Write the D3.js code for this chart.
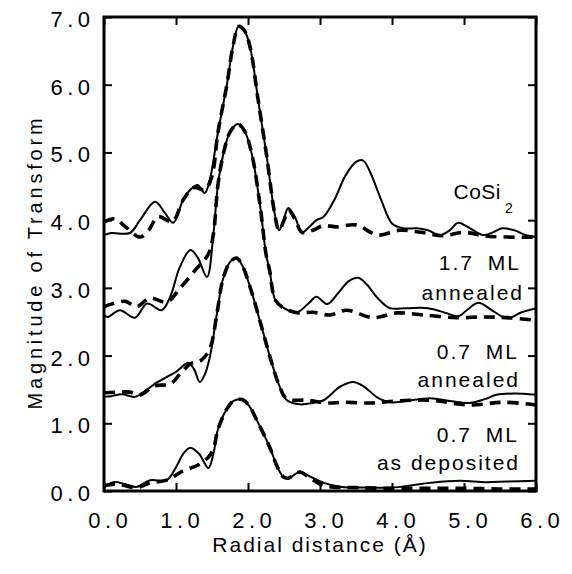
<!DOCTYPE html>
<html>
<head>
<meta charset="utf-8">
<script src="https://cdn.jsdelivr.net/npm/d3@7"></script>
<style>
  body { margin: 0; background: #fff; }
  text { font-family: "Liberation Sans", Arial, sans-serif; fill: #000; }
</style>
</head>
<body>
<svg id="chart"></svg>
<script>
// tick values
const xTicks = [0, 1, 2, 3, 4, 5, 6];
const yTicks = [0, 1, 2, 3, 4, 5, 6, 7];

// [radial distance, magnitude]
const cosi2Solid = [[0.0,3.78],[0.1,3.81],[0.36,3.81],[0.5,4.0],[0.71,4.27],[0.85,4.1],[0.96,3.96],[1.1,4.3],[1.2,4.45],[1.3,4.52],[1.4,4.4],[1.47,4.6],[1.58,5.28],[1.71,6.02],[1.79,6.56],[1.87,6.86],[1.95,6.8],[2.03,6.55],[2.14,5.78],[2.26,4.94],[2.37,4.1],[2.43,3.85],[2.48,3.95],[2.56,4.18],[2.65,4.05],[2.75,3.82],[2.85,3.9],[2.95,4.0],[3.05,4.05],[3.2,4.3],[3.35,4.65],[3.5,4.86],[3.6,4.88],[3.7,4.7],[3.85,4.3],[4.0,3.95],[4.15,3.88],[4.35,3.88],[4.5,3.85],[4.67,3.78],[4.8,3.85],[4.92,3.96],[5.05,3.9],[5.27,3.78],[5.4,3.82],[5.53,3.88],[5.7,3.85],[5.85,3.78],[6.0,3.75]];
const cosi2Dash = [[0.0,3.97],[0.15,4.02],[0.3,3.9],[0.5,3.75],[0.62,3.85],[0.75,4.05],[0.95,3.98],[1.1,4.3],[1.25,4.48],[1.4,4.45],[1.5,4.65],[1.58,5.28],[1.71,6.02],[1.79,6.56],[1.87,6.86],[1.95,6.8],[2.03,6.55],[2.14,5.78],[2.26,4.94],[2.37,4.1],[2.43,3.85],[2.5,4.0],[2.56,4.15],[2.65,4.02],[2.75,3.82],[2.9,3.85],[3.05,3.92],[3.23,3.9],[3.5,3.93],[3.8,3.78],[4.1,3.85],[4.4,3.82],[4.7,3.77],[5.0,3.82],[5.27,3.77],[5.6,3.75],[6.0,3.75]];
const ml17Solid = [[0.0,2.6],[0.05,2.57],[0.22,2.67],[0.43,2.56],[0.6,2.77],[0.8,2.67],[0.92,2.87],[1.05,3.3],[1.2,3.56],[1.3,3.45],[1.43,3.16],[1.52,3.8],[1.58,4.5],[1.65,4.94],[1.75,5.3],[1.86,5.42],[1.96,5.3],[2.06,4.94],[2.17,4.2],[2.25,3.5],[2.3,3.26],[2.38,2.82],[2.5,2.7],[2.68,2.64],[2.85,2.78],[2.95,2.87],[3.1,2.76],[3.25,2.92],[3.4,3.1],[3.53,3.15],[3.65,3.05],[3.8,2.85],[3.97,2.7],[4.2,2.7],[4.5,2.7],[4.75,2.63],[4.92,2.58],[5.05,2.68],[5.2,2.78],[5.4,2.66],[5.6,2.55],[5.8,2.64],[6.0,2.7]];
const ml17Dash = [[0.0,2.72],[0.1,2.76],[0.3,2.8],[0.45,2.72],[0.64,2.85],[0.87,2.79],[1.06,3.0],[1.29,3.29],[1.45,3.5],[1.52,3.8],[1.58,4.5],[1.65,4.94],[1.75,5.3],[1.86,5.42],[1.96,5.3],[2.06,4.94],[2.17,4.2],[2.25,3.5],[2.3,3.26],[2.38,2.82],[2.5,2.7],[2.7,2.63],[2.9,2.64],[3.14,2.6],[3.37,2.67],[3.74,2.56],[4.07,2.63],[4.43,2.6],[4.9,2.56],[5.27,2.57],[5.6,2.56],[6.0,2.52]];
const ml07aSolid = [[0.0,1.39],[0.1,1.4],[0.25,1.43],[0.43,1.39],[0.6,1.5],[0.73,1.6],[0.9,1.7],[1.0,1.76],[1.17,1.89],[1.25,1.8],[1.33,1.61],[1.4,1.72],[1.47,1.98],[1.57,2.63],[1.65,3.12],[1.75,3.38],[1.84,3.44],[1.92,3.33],[2.03,3.01],[2.2,2.38],[2.33,1.89],[2.44,1.54],[2.54,1.34],[2.72,1.28],[2.9,1.3],[3.05,1.34],[3.28,1.54],[3.46,1.61],[3.6,1.55],[3.8,1.38],[3.97,1.31],[4.2,1.33],[4.53,1.37],[4.8,1.33],[5.08,1.3],[5.3,1.36],[5.45,1.42],[5.7,1.44],[6.0,1.42]];
const ml07aDash = [[0.0,1.45],[0.2,1.46],[0.36,1.46],[0.5,1.42],[0.7,1.55],[0.92,1.58],[1.05,1.72],[1.2,1.88],[1.35,1.93],[1.47,2.1],[1.57,2.63],[1.65,3.12],[1.75,3.38],[1.84,3.44],[1.92,3.33],[2.03,3.01],[2.2,2.38],[2.33,1.89],[2.44,1.54],[2.54,1.36],[2.82,1.34],[3.1,1.3],[3.32,1.31],[3.7,1.3],[4.07,1.33],[4.53,1.34],[5.08,1.27],[5.55,1.31],[6.0,1.27]];
const ml07dSolid = [[0.0,0.05],[0.13,0.13],[0.3,0.1],[0.45,0.06],[0.64,0.16],[0.87,0.16],[1.0,0.35],[1.1,0.55],[1.2,0.64],[1.32,0.55],[1.45,0.34],[1.52,0.55],[1.58,0.9],[1.7,1.2],[1.8,1.33],[1.92,1.35],[2.02,1.25],[2.12,1.05],[2.3,0.65],[2.41,0.35],[2.49,0.21],[2.56,0.19],[2.72,0.28],[2.85,0.22],[3.05,0.12],[3.3,0.06],[3.6,0.05],[4.0,0.05],[4.3,0.09],[4.53,0.12],[4.94,0.15],[5.3,0.13],[5.6,0.14],[6.0,0.15]];
const ml07dDash = [[0.0,0.08],[0.2,0.1],[0.45,0.05],[0.64,0.12],[0.87,0.16],[1.1,0.3],[1.3,0.38],[1.45,0.5],[1.52,0.62],[1.58,0.9],[1.7,1.2],[1.8,1.33],[1.92,1.35],[2.02,1.25],[2.12,1.05],[2.3,0.65],[2.41,0.35],[2.49,0.21],[2.56,0.19],[2.72,0.28],[2.85,0.2],[3.05,0.08],[3.5,0.05],[4.0,0.04],[4.5,0.04],[5.0,0.04],[5.5,0.03],[6.0,0.03]];

const solidSeries = [cosi2Solid, ml17Solid, ml07aSolid, ml07dSolid];
const dashSeries = [cosi2Dash, ml17Dash, ml07aDash, ml07dDash];

const width = 572, height = 574;
const margin = {top: 17, right: 36, bottom: 83, left: 104};
const innerW = width - margin.left - margin.right;
const innerH = height - margin.top - margin.bottom;

const svg = d3.select("#chart").attr("width", width).attr("height", height);
const g = svg.append("g").attr("transform", `translate(${margin.left},${margin.top})`);

const x = d3.scaleLinear().domain([0, 6]).range([0, innerW]);
const y = d3.scaleLinear().domain([0, 7]).range([innerH, 0]);

g.append("clipPath").attr("id", "clip")
  .append("rect").attr("width", innerW).attr("height", innerH);

const line = d3.line()
  .x(d => x(d[0]))
  .y(d => y(d[1]))
  .curve(d3.curveCatmullRom.alpha(0.5));

const plot = g.append("g").attr("clip-path", "url(#clip)");

plot.selectAll("path.dash")
  .data(dashSeries)
  .enter()
    .append("path")
    .attr("class", "dash")
    .attr("d", line)
    .attr("fill", "none")
    .attr("stroke", "#000")
    .attr("stroke-width", 3.6)
    .attr("stroke-dasharray", "11,7");

plot.selectAll("path.solid")
  .data(solidSeries)
  .enter()
    .append("path")
    .attr("class", "solid")
    .attr("d", line)
    .attr("fill", "none")
    .attr("stroke", "#000")
    .attr("stroke-width", 2);

// axes, ticks inward on all four sides
const tickFmt = d3.format(".1f");
const tickLs = 4.5;
const styleAxis = sel => {
  sel.select(".domain").remove();
  sel.selectAll(".tick line").attr("stroke", "#000").attr("stroke-width", 2);
};

g.append("g")
  .attr("transform", `translate(0,${innerH})`)
  .call(d3.axisBottom(x).tickValues(xTicks).tickSizeInner(-8).tickSizeOuter(0).tickFormat(tickFmt))
  .call(styleAxis)
  .selectAll("text")
    .attr("y", 37)
    .attr("dy", null)
    .attr("dx", 3.5 + tickLs / 2)
    .style("font-size", "22px")
    .style("letter-spacing", tickLs + "px");

g.append("g")
  .call(d3.axisTop(x).tickValues(xTicks).tickSizeInner(-8).tickSizeOuter(0).tickFormat(""))
  .call(styleAxis);

g.append("g")
  .call(d3.axisLeft(y).tickValues(yTicks).tickSizeInner(-8).tickSizeOuter(0).tickFormat(tickFmt))
  .call(styleAxis)
  .selectAll("text")
    .attr("x", -14 + tickLs)
    .attr("dy", "0.43em")
    .style("font-size", "22px")
    .style("letter-spacing", tickLs + "px");

g.append("g")
  .attr("transform", `translate(${innerW},0)`)
  .call(d3.axisRight(y).tickValues(yTicks).tickSizeInner(-8).tickSizeOuter(0).tickFormat(""))
  .call(styleAxis);

g.append("rect")
  .attr("width", innerW)
  .attr("height", innerH)
  .attr("fill", "none")
  .attr("stroke", "#000")
  .attr("stroke-width", 3);

// curve labels
const labelLs = 2;
const labels = [
  {t: "1.7 ML", x: 519, y: 270, ws: 6},
  {t: "annealed", x: 522, y: 300, ws: 0},
  {t: "0.7 ML", x: 517, y: 359, ws: 6},
  {t: "annealed", x: 518, y: 387, ws: 0},
  {t: "0.7 ML", x: 517, y: 442, ws: 6},
  {t: "as deposited", x: 518, y: 470, ws: 0}
];
svg.selectAll("text.lbl")
  .data(labels)
  .enter()
    .append("text")
    .attr("class", "lbl")
    .attr("x", d => d.x + labelLs)
    .attr("y", d => d.y)
    .attr("text-anchor", "end")
    .style("font-size", "21px")
    .style("letter-spacing", labelLs + "px")
    .style("word-spacing", d => d.ws + "px")
    .text(d => d.t);

svg.append("text")
  .attr("x", 501)
  .attr("y", 199)
  .attr("text-anchor", "end")
  .style("font-size", "21px")
  .style("letter-spacing", "0.5px")
  .text("CoSi");
svg.append("text")
  .attr("x", 505)
  .attr("y", 213)
  .style("font-size", "14px")
  .text("2");

// axis titles
svg.append("text")
  .attr("x", 320)
  .attr("y", 552)
  .attr("text-anchor", "middle")
  .style("font-size", "21px")
  .style("letter-spacing", "2px")
  .text("Radial distance (Å)");

svg.append("text")
  .attr("transform", `translate(42,262) rotate(-90)`)
  .attr("text-anchor", "middle")
  .style("font-size", "20px")
  .style("letter-spacing", "3.8px")
  .text("Magnitude of Transform");
</script>
</body>
</html>
